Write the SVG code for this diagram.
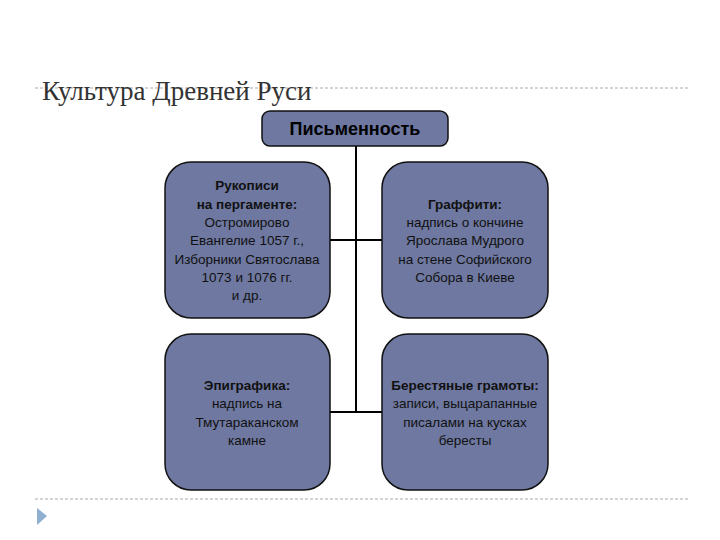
<svg xmlns="http://www.w3.org/2000/svg" width="720" height="540" viewBox="0 0 720 540">
<style>
.box{fill:#6e78a0;stroke:#111;stroke-width:1.5}
.t{font-family:"Liberation Sans",Arial,sans-serif;font-size:13.5px;fill:#111;text-anchor:middle}
.b{font-weight:bold}
.c{stroke:#000;stroke-width:2;fill:none}
.d{stroke:#aaa;stroke-width:1;stroke-dasharray:3,2}
</style>
<rect width="720" height="540" fill="#fff"/>
<line class="d" x1="35" y1="88" x2="690" y2="88"/>
<line class="d" x1="35" y1="499" x2="690" y2="499"/>
<polygon points="37,508 47,516 37,525" fill="#8fb0d0"/>
<text x="42" y="100" font-family="'Liberation Serif','DejaVu Serif',serif" font-size="27" fill="#333">Культура Древней Руси</text>
<g id="connectors">
<path class="c" d="M356 146V412M330 240H382M330 412H382"/>
</g>
<g id="header">
<rect class="box" x="262" y="111" width="186" height="35" rx="8"/>
<text x="355" y="135" font-family="'Liberation Sans',Arial,sans-serif" font-size="18" font-weight="bold" text-anchor="middle" fill="#000">Письменность</text>
</g>
<g id="n1">
<rect class="box" x="165" y="162" width="165" height="156" rx="26"/>
<text class="t"><tspan class="b" x="247" y="190">Рукописи</tspan><tspan class="b" x="247" y="209">на пергаменте:</tspan><tspan x="247" y="227">Остромирово</tspan><tspan x="247" y="245">Евангелие 1057 г.,</tspan><tspan x="247" y="264">Изборники Святослава</tspan><tspan x="247" y="282">1073 и 1076 гг.</tspan><tspan x="247" y="300">и др.</tspan></text>
</g>
<g id="n2">
<rect class="box" x="382" y="162" width="166" height="156" rx="26"/>
<text class="t"><tspan class="b" x="465" y="209">Граффити:</tspan><tspan x="465" y="227">надпись о кончине</tspan><tspan x="465" y="245">Ярослава Мудрого</tspan><tspan x="465" y="264">на стене Софийского</tspan><tspan x="465" y="282">Собора в Киеве</tspan></text>
</g>
<g id="n3">
<rect class="box" x="165" y="334" width="165" height="156" rx="26"/>
<text class="t"><tspan class="b" x="247" y="390">Эпиграфика:</tspan><tspan x="247" y="408">надпись на</tspan><tspan x="247" y="427">Тмутараканском</tspan><tspan x="247" y="445">камне</tspan></text>
</g>
<g id="n4">
<rect class="box" x="382" y="334" width="166" height="156" rx="26"/>
<text class="t"><tspan class="b" x="465" y="390">Берестяные грамоты:</tspan><tspan x="465" y="408">записи, выцарапанные</tspan><tspan x="465" y="427">писалами на кусках</tspan><tspan x="465" y="445">бересты</tspan></text>
</g>
</svg>
